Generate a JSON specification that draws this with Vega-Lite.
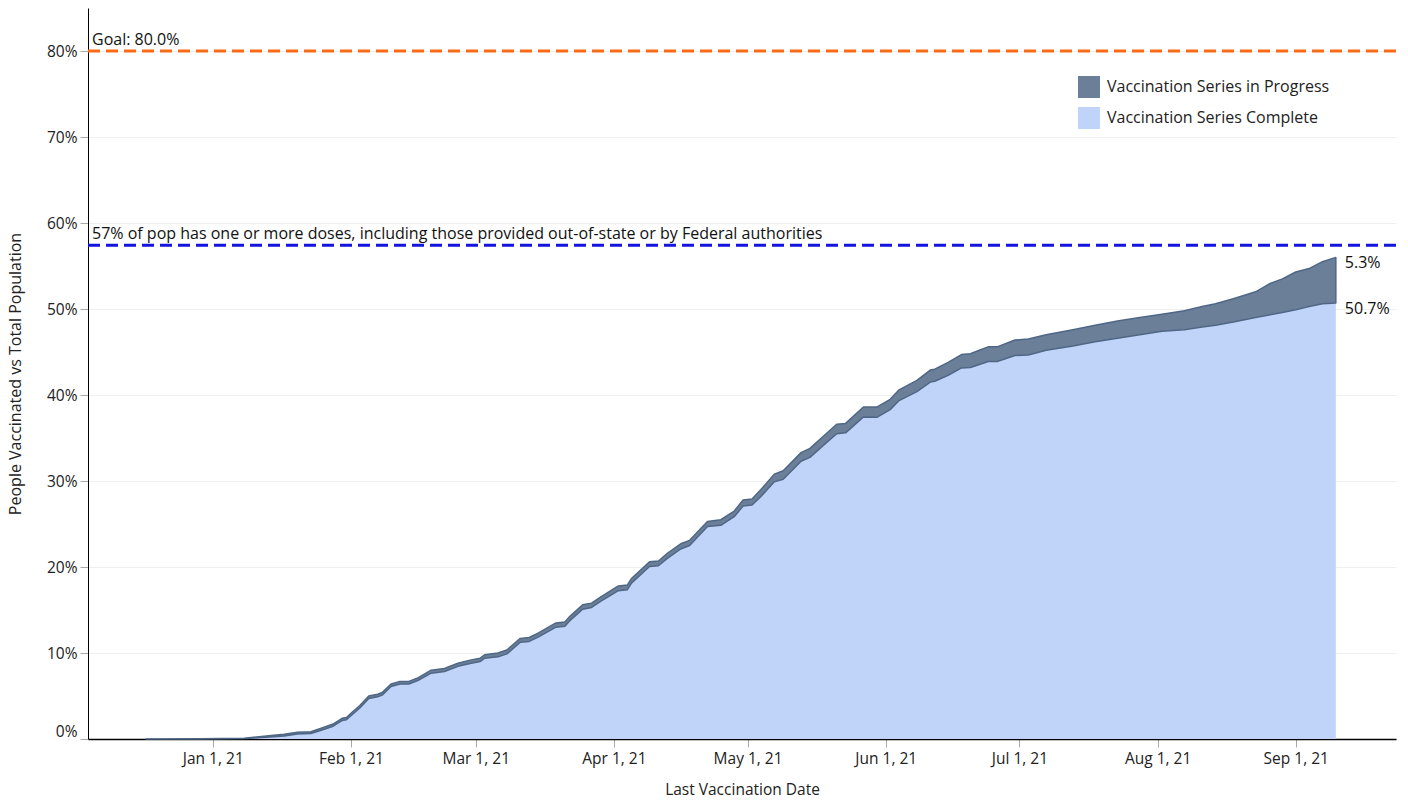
{
  "$schema": "https://vega.github.io/schema/vega-lite/v6.json",
  "width": 1308,
  "height": 731,
  "autosize": {"type": "none"},
  "padding": {"left": 88, "top": 8, "right": 12, "bottom": 63},
  "background": "white",
  "config": {
    "view": {"stroke": null},
    "font": "Open Sans",
    "axis": {
      "labelFont": "Open Sans",
      "labelFontSize": 15.5,
      "labelColor": "#222222",
      "titleFont": "Open Sans",
      "titleFontSize": 16,
      "titleFontWeight": "normal",
      "titleColor": "#222222",
      "tickColor": "#a8a8a8",
      "domainColor": "#000000",
      "gridColor": "#efefef"
    },
    "legend": {
      "labelFont": "Open Sans",
      "labelFontSize": 16,
      "labelColor": "#222222",
      "labelLimit": 400
    }
  },
  "datasets": {
    "vacc": [
      {"date":"2020-12-17","complete":0,"inprog":0},
      {"date":"2020-12-29","complete":0.0001,"inprog":0.0001},
      {"date":"2021-01-08","complete":0.0005,"inprog":0.0005},
      {"date":"2021-01-13","complete":0.002,"inprog":0.0015},
      {"date":"2021-01-17","complete":0.0035,"inprog":0.002},
      {"date":"2021-01-20","complete":0.0058,"inprog":0.002},
      {"date":"2021-01-23","complete":0.0065,"inprog":0.002},
      {"date":"2021-01-25","complete":0.0095,"inprog":0.0025},
      {"date":"2021-01-28","complete":0.0149,"inprog":0.0025},
      {"date":"2021-01-30","complete":0.0215,"inprog":0.0025},
      {"date":"2021-01-31","complete":0.0225,"inprog":0.0025},
      {"date":"2021-02-01","complete":0.027,"inprog":0.003},
      {"date":"2021-02-03","complete":0.036,"inprog":0.003},
      {"date":"2021-02-05","complete":0.047,"inprog":0.003},
      {"date":"2021-02-07","complete":0.049,"inprog":0.003},
      {"date":"2021-02-08","complete":0.051,"inprog":0.003},
      {"date":"2021-02-10","complete":0.061,"inprog":0.003},
      {"date":"2021-02-12","complete":0.064,"inprog":0.003},
      {"date":"2021-02-14","complete":0.064,"inprog":0.003},
      {"date":"2021-02-16","complete":0.068,"inprog":0.003},
      {"date":"2021-02-19","complete":0.0765,"inprog":0.0035},
      {"date":"2021-02-22","complete":0.0785,"inprog":0.0035},
      {"date":"2021-02-25","complete":0.0845,"inprog":0.0035},
      {"date":"2021-02-28","complete":0.088,"inprog":0.004},
      {"date":"2021-03-02","complete":0.090,"inprog":0.004},
      {"date":"2021-03-03","complete":0.094,"inprog":0.004},
      {"date":"2021-03-06","complete":0.0955,"inprog":0.0045},
      {"date":"2021-03-08","complete":0.099,"inprog":0.0045},
      {"date":"2021-03-11","complete":0.1125,"inprog":0.0045},
      {"date":"2021-03-13","complete":0.1135,"inprog":0.0045},
      {"date":"2021-03-15","complete":0.1185,"inprog":0.0045},
      {"date":"2021-03-19","complete":0.130,"inprog":0.005},
      {"date":"2021-03-21","complete":0.131,"inprog":0.005},
      {"date":"2021-03-22","complete":0.137,"inprog":0.005},
      {"date":"2021-03-25","complete":0.151,"inprog":0.005},
      {"date":"2021-03-27","complete":0.153,"inprog":0.005},
      {"date":"2021-03-29","complete":0.160,"inprog":0.005},
      {"date":"2021-04-02","complete":0.1725,"inprog":0.0055},
      {"date":"2021-04-04","complete":0.1735,"inprog":0.0055},
      {"date":"2021-04-05","complete":0.1815,"inprog":0.0055},
      {"date":"2021-04-09","complete":0.2005,"inprog":0.0055},
      {"date":"2021-04-11","complete":0.2015,"inprog":0.0055},
      {"date":"2021-04-13","complete":0.210,"inprog":0.006},
      {"date":"2021-04-16","complete":0.221,"inprog":0.006},
      {"date":"2021-04-18","complete":0.225,"inprog":0.006},
      {"date":"2021-04-22","complete":0.247,"inprog":0.006},
      {"date":"2021-04-25","complete":0.2485,"inprog":0.0065},
      {"date":"2021-04-28","complete":0.2585,"inprog":0.0065},
      {"date":"2021-04-30","complete":0.271,"inprog":0.007},
      {"date":"2021-05-02","complete":0.272,"inprog":0.007},
      {"date":"2021-05-04","complete":0.282,"inprog":0.008},
      {"date":"2021-05-07","complete":0.299,"inprog":0.009},
      {"date":"2021-05-09","complete":0.302,"inprog":0.010},
      {"date":"2021-05-13","complete":0.323,"inprog":0.010},
      {"date":"2021-05-15","complete":0.3275,"inprog":0.0105},
      {"date":"2021-05-18","complete":0.3415,"inprog":0.0105},
      {"date":"2021-05-21","complete":0.355,"inprog":0.011},
      {"date":"2021-05-23","complete":0.356,"inprog":0.011},
      {"date":"2021-05-27","complete":0.3745,"inprog":0.0115},
      {"date":"2021-05-30","complete":0.374,"inprog":0.012},
      {"date":"2021-06-02","complete":0.383,"inprog":0.012},
      {"date":"2021-06-04","complete":0.3935,"inprog":0.0125},
      {"date":"2021-06-08","complete":0.404,"inprog":0.013},
      {"date":"2021-06-11","complete":0.415,"inprog":0.014},
      {"date":"2021-06-12","complete":0.416,"inprog":0.014},
      {"date":"2021-06-15","complete":0.423,"inprog":0.015},
      {"date":"2021-06-18","complete":0.4315,"inprog":0.0155},
      {"date":"2021-06-20","complete":0.432,"inprog":0.016},
      {"date":"2021-06-22","complete":0.4355,"inprog":0.0165},
      {"date":"2021-06-24","complete":0.439,"inprog":0.017},
      {"date":"2021-06-26","complete":0.439,"inprog":0.017},
      {"date":"2021-06-30","complete":0.446,"inprog":0.018},
      {"date":"2021-07-03","complete":0.4465,"inprog":0.0185},
      {"date":"2021-07-07","complete":0.452,"inprog":0.018},
      {"date":"2021-07-13","complete":0.457,"inprog":0.019},
      {"date":"2021-07-18","complete":0.462,"inprog":0.019},
      {"date":"2021-07-23","complete":0.466,"inprog":0.020},
      {"date":"2021-07-28","complete":0.470,"inprog":0.020},
      {"date":"2021-08-02","complete":0.474,"inprog":0.020},
      {"date":"2021-08-07","complete":0.476,"inprog":0.022},
      {"date":"2021-08-11","complete":0.479,"inprog":0.024},
      {"date":"2021-08-14","complete":0.481,"inprog":0.025},
      {"date":"2021-08-18","complete":0.485,"inprog":0.027},
      {"date":"2021-08-23","complete":0.490,"inprog":0.030},
      {"date":"2021-08-26","complete":0.493,"inprog":0.036},
      {"date":"2021-08-29","complete":0.496,"inprog":0.039},
      {"date":"2021-09-01","complete":0.499,"inprog":0.044},
      {"date":"2021-09-04","complete":0.503,"inprog":0.044},
      {"date":"2021-09-07","complete":0.506,"inprog":0.049},
      {"date":"2021-09-10","complete":0.507,"inprog":0.053}
    ],
    "refs": [
      {"kind":"goal","date":"2020-12-04","value":0.8,"label":"Goal: 80.0%"},
      {"kind":"dose","date":"2020-12-04","value":0.574,"label":"57% of pop has one or more doses, including those provided out-of-state or by Federal authorities"}
    ],
    "ends": [
      {"date":"2021-09-10","value":0.56,"label":"5.3%"},
      {"date":"2021-09-10","value":0.507,"label":"50.7%"}
    ]
  },
  "layer": [
    {
      "data": {"name": "vacc"},
      "transform": [{"fold": ["complete", "inprog"], "as": ["series", "value"]}],
      "mark": {"type": "area", "interpolate": "linear", "strokeWidth": 1.5, "strokeJoin": "round"},
      "encoding": {
        "x": {
          "field": "date", "type": "temporal", "title": "Last Vaccination Date",
          "scale": {"domain": [{"year": 2020, "month": 12, "date": 4}, {"year": 2021, "month": 9, "date": 23, "hours": 12}]},
          "axis": {
            "format": "%b %-d, %y",
            "tickCount": "month",
            "grid": false,
            "tickSize": 8,
            "labelPadding": 4,
            "titlePadding": 16,
            "titleFontSize": 15.5,
            "domainWidth": 1.5,
            "labelFlush": false
          }
        },
        "y": {
          "field": "value", "type": "quantitative", "stack": "zero", "title": "People Vaccinated vs Total Population",
          "scale": {"domain": [0, 0.85], "nice": false},
          "axis": {
            "values": [0, 0.1, 0.2, 0.3, 0.4, 0.5, 0.6, 0.7, 0.8],
            "format": ".0%",
            "grid": true,
            "tickSize": 8,
            "labelPadding": 3,
            "titlePadding": 23,
            "labelFlush": true
          }
        },
        "color": {
          "field": "series", "type": "nominal",
          "scale": {"domain": ["inprog", "complete"], "range": ["#6b7f99", "#c0d3f8"]},
          "legend": {
            "title": null,
            "orient": "none",
            "legendX": 990,
            "legendY": 68,
            "symbolType": "square",
            "symbolSize": 484,
            "symbolStrokeWidth": 0,
            "symbolOpacity": 1,
            "rowPadding": 9,
            "labelOffset": 7,
            "labelExpr": "datum.label == 'inprog' ? 'Vaccination Series in Progress' : 'Vaccination Series Complete'"
          }
        },
        "order": {"field": "series", "sort": "ascending"},
        "stroke": {"condition": {"test": "datum.series == 'inprog'", "value": "#4f6786"}, "value": "transparent"},
        "opacity": {"value": 1}
      }
    },
    {
      "data": {"name": "refs"},
      "transform": [{"filter": "datum.kind == 'goal'"}],
      "mark": {"type": "rule", "color": "#fa6a17", "strokeWidth": 3, "strokeDash": [12, 6]},
      "encoding": {
        "y": {"field": "value", "type": "quantitative", "title": "People Vaccinated vs Total Population", "scale": {"domain": [0, 0.85], "nice": false}}
      }
    },
    {
      "data": {"name": "refs"},
      "transform": [{"filter": "datum.kind == 'dose'"}],
      "mark": {"type": "rule", "color": "#1414e0", "strokeWidth": 3, "strokeDash": [12, 6]},
      "encoding": {
        "y": {"field": "value", "type": "quantitative", "title": "People Vaccinated vs Total Population", "scale": {"domain": [0, 0.85], "nice": false}}
      }
    },
    {
      "data": {"name": "refs"},
      "mark": {"type": "text", "align": "left", "baseline": "bottom", "dx": 4, "dy": -3, "fontSize": 16, "font": "Open Sans", "color": "#111111"},
      "encoding": {
        "x": {"field": "date", "type": "temporal", "title": "Last Vaccination Date", "scale": {"domain": [{"year": 2020, "month": 12, "date": 4}, {"year": 2021, "month": 9, "date": 23, "hours": 12}]}},
        "y": {"field": "value", "type": "quantitative", "title": "People Vaccinated vs Total Population", "scale": {"domain": [0, 0.85], "nice": false}},
        "text": {"field": "label"}
      }
    },
    {
      "data": {"name": "ends"},
      "mark": {"type": "text", "align": "left", "baseline": "top", "dx": 9, "dy": -2, "fontSize": 16, "font": "Open Sans", "color": "#111111"},
      "encoding": {
        "x": {"field": "date", "type": "temporal", "title": "Last Vaccination Date", "scale": {"domain": [{"year": 2020, "month": 12, "date": 4}, {"year": 2021, "month": 9, "date": 23, "hours": 12}]}},
        "y": {"field": "value", "type": "quantitative", "title": "People Vaccinated vs Total Population", "scale": {"domain": [0, 0.85], "nice": false}},
        "text": {"field": "label"}
      }
    }
  ]
}
